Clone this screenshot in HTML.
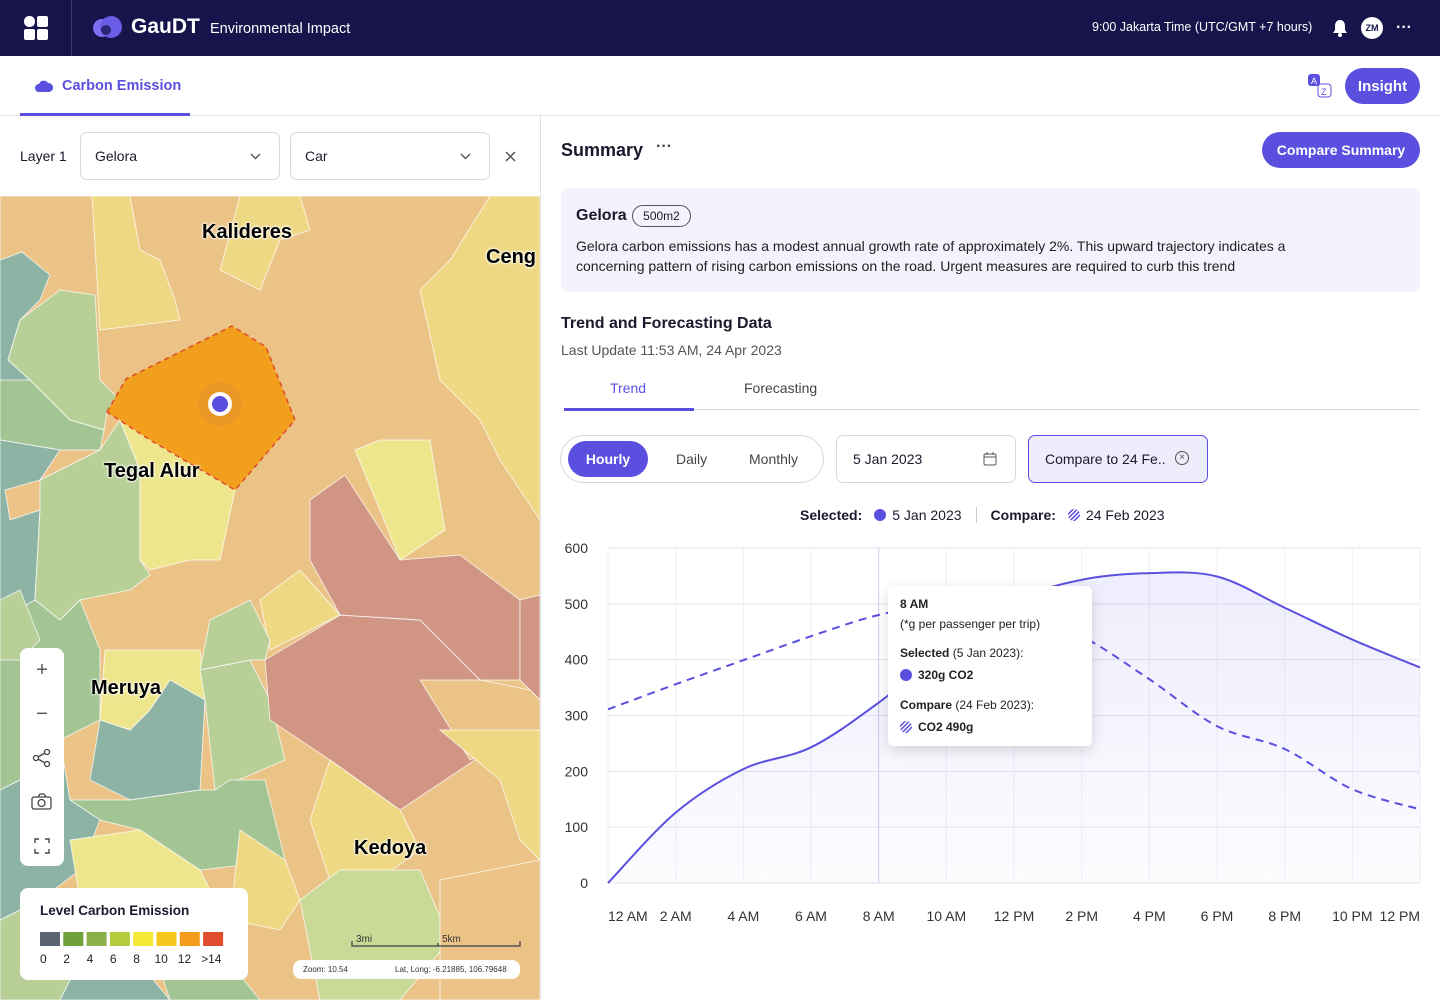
<!DOCTYPE html>
<html><head><meta charset="utf-8">
<style>
*{box-sizing:border-box;margin:0;padding:0}
body{width:1440px;height:1000px;overflow:hidden;background:#fff;font-family:"Liberation Sans",sans-serif;color:#1a1a2e;position:relative}
.abs{position:absolute}
.top{left:0;top:0;width:1440px;height:56px;background:#16144a}
.btn{background:#5b4fe0;color:#fff;font-weight:bold;font-size:14px;border-radius:20px;display:flex;align-items:center;justify-content:center}
.sel{border:1px solid #d8d8e4;border-radius:7px;font-size:14px;display:flex;align-items:center;padding-left:14px}
.lbl{font-weight:bold;font-size:20px;color:#000;text-shadow:0 0 2px #fff,0 0 2px #fff,0 0 3px #fff}
.ctl{left:20px;width:44px;height:44px;display:flex;align-items:center;justify-content:center;color:#555;font-size:20px}
.tt{font-size:12px;left:900px;color:#222}
</style></head><body>
<div class="abs top">
  <svg class="abs" style="left:24px;top:16px" width="24" height="24"><rect x="0" y="0" width="11" height="11" rx="5" fill="#fff"/><rect x="13" y="0" width="11" height="11" rx="2" fill="#fff"/><rect x="0" y="13" width="11" height="11" rx="2" fill="#fff"/><rect x="13" y="13" width="11" height="11" rx="2" fill="#fff"/></svg>
  <div class="abs" style="left:71px;top:0;width:1px;height:56px;background:#3a3870"></div>
  <svg class="abs" style="left:92px;top:15px" width="32" height="26"><circle cx="10" cy="13" r="9" fill="#7d6ff0"/><circle cx="19" cy="12" r="11" fill="#6a5ce6"/><circle cx="14" cy="15" r="5" fill="#2b2670"/></svg>
  <div class="abs" style="left:131px;top:15px;font-size:21px;font-weight:bold;color:#fff">GauDT</div>
  <div class="abs" style="left:210px;top:21px;font-size:14.5px;color:#fff">Environmental Impact</div>
  <div class="abs" style="left:1092px;top:20px;font-size:12.5px;color:#fff">9:00 Jakarta Time (UTC/GMT +7 hours)</div>
  <svg class="abs" style="left:1332px;top:19px" width="16" height="18"><path d="M8 1C4.5 1 3 4 3 7v4l-2 3h14l-2-3V7c0-3-1.5-6-5-6z" fill="#fff"/><circle cx="8" cy="16" r="2" fill="#fff"/></svg>
  <div class="abs" style="left:1361px;top:17px;width:22px;height:22px;border-radius:50%;background:#fff;color:#16144a;font-size:9px;font-weight:bold;display:flex;align-items:center;justify-content:center">ZM</div>
  <div class="abs" style="left:1396px;top:19px;color:#fff;font-size:16px;font-weight:bold">···</div>
</div>
<div class="abs" style="left:0;top:115px;width:1440px;height:1px;background:#e4e4ec"></div>
<svg class="abs" style="left:35px;top:79px" width="18" height="14"><path d="M4 13a4 4 0 0 1 0-8 5 5 0 0 1 9-1 4 4 0 0 1 1 9z" fill="#5b4fe0"/></svg>
<div class="abs" style="left:62px;top:78px;font-size:14.5px;font-weight:bold;color:#5b4fe0">Carbon Emission</div>
<div class="abs" style="left:20px;top:113px;width:170px;height:3px;background:#5b4fe0"></div>
<svg class="abs" style="left:1307px;top:73px" width="26" height="26"><rect x="1" y="1" width="12" height="12" rx="3" fill="#5b4fe0"/><text x="4" y="11" font-size="9" fill="#fff" font-family="Liberation Sans">A</text><rect x="11" y="11" width="13" height="13" rx="3" fill="#fff" stroke="#5b4fe0"/><text x="14" y="22" font-size="9" fill="#5b4fe0" font-family="Liberation Sans">Z</text></svg>
<div class="abs btn" style="left:1345px;top:68px;width:75px;height:36px;font-size:15px">Insight</div>
<div class="abs" style="left:20px;top:148px;font-size:14px">Layer 1</div>
<div class="abs sel" style="left:80px;top:132px;width:200px;height:48px">Gelora<svg class="abs" style="right:18px;top:20px" width="11" height="7"><path d="M1 1l4.5 4.5L10 1" fill="none" stroke="#555" stroke-width="1.4"/></svg></div>
<div class="abs sel" style="left:290px;top:132px;width:200px;height:48px">Car<svg class="abs" style="right:18px;top:20px" width="11" height="7"><path d="M1 1l4.5 4.5L10 1" fill="none" stroke="#555" stroke-width="1.4"/></svg></div>
<svg class="abs" style="left:505px;top:151px" width="11" height="11"><path d="M1 1l9 9M10 1l-9 9" stroke="#555" stroke-width="1.5"/></svg>
<div class="abs" style="left:540px;top:116px;width:1px;height:884px;background:#e0e0e8"></div>
<svg class="abs" style="left:0;top:196px" width="540" height="804" viewBox="0 196 540 804">
<g stroke="#fff" stroke-opacity="0.7" stroke-width="1">
<rect x="0" y="196" width="540" height="804" fill="#ebc386"/>
<polygon points="92,196 130,196 140,250 160,260 175,300 180,320 100,330" fill="#eed883"/>
<polygon points="240,196 300,196 310,230 280,240 260,290 240,280 220,270" fill="#eed883"/>
<polygon points="490,196 540,196 540,520 500,460 480,420 460,400 440,380 420,290 450,260" fill="#eed883"/>
<polygon points="0,260 22,252 50,275 40,300 20,320 8,360 30,380 25,400 0,420" fill="#8db3a5"/>
<polygon points="20,320 60,290 95,295 100,380 120,400 107,412 104,430 70,420 30,380 8,360" fill="#b8d097"/>
<polygon points="0,380 30,380 70,420 104,430 100,450 60,450 0,440" fill="#a3c493"/>
<polygon points="0,440 60,450 40,480 5,490 10,520 40,510 35,600 0,620" fill="#8db3a5"/>
<polygon points="40,480 100,450 120,420 140,470 140,560 150,575 130,590 80,600 60,620 35,600 40,510" fill="#b8d097"/>
<polygon points="120,420 150,440 235,490 220,560 190,560 150,570 140,560 140,470" fill="#eee68d"/>
<polygon points="0,620 35,600 60,620 80,600 100,650 100,720 60,740 20,780 0,790" fill="#a3c493"/>
<polygon points="0,600 20,590 40,640 20,660 0,660" fill="#b8d097"/>
<polygon points="105,650 200,650 205,700 170,680 150,710 130,730 100,720" fill="#eee68d"/>
<polygon points="100,720 130,730 150,710 170,680 205,700 200,790 130,800 90,780" fill="#8db3a5"/>
<polygon points="200,670 250,660 270,700 285,760 215,790 205,700" fill="#b8d097"/>
<polygon points="70,800 130,800 200,790 215,790 230,780 265,780 285,860 200,870 140,830 100,820" fill="#a3c493"/>
<polygon points="0,790 20,780 60,740 70,800 100,820 80,870 40,900 0,920" fill="#8db3a5"/>
<polygon points="70,840 140,830 200,870 210,890 150,900 80,900" fill="#eee68d"/>
<polygon points="240,830 285,860 300,900 280,930 230,920" fill="#eed883"/>
<polygon points="265,660 340,615 420,620 480,680 475,760 400,810 330,760 270,720" fill="#d09683"/>
<polygon points="310,500 345,475 400,560 460,555 520,600 520,680 480,680 420,620 340,615 310,560" fill="#d09683"/>
<polygon points="520,600 540,595 540,700 520,680" fill="#d09683"/>
<polygon points="420,680 480,680 530,690 540,700 540,730 470,760" fill="#ebc386"/>
<polygon points="440,730 540,730 540,860 520,840 500,780" fill="#eed883"/>
<polygon points="355,450 380,440 430,440 445,530 400,560 380,510" fill="#eee68d"/>
<polygon points="300,570 340,615 270,650 260,600" fill="#eed883"/>
<polygon points="210,620 250,600 270,640 265,660 250,660 200,670" fill="#b8d097"/>
<polygon points="310,820 330,760 400,810 420,850 350,900 330,880" fill="#eed883"/>
<polygon points="300,900 340,870 420,870 450,940 400,1000 320,1000" fill="#c9d996"/>
<polygon points="0,920 40,900 80,960 60,1000 0,1000" fill="#b8d097"/>
<polygon points="80,960 120,940 170,1000 60,1000" fill="#8db3a5"/>
<polygon points="150,940 220,950 260,1000 170,1000" fill="#a3c493"/>
<polygon points="440,880 540,860 540,1000 440,1000" fill="#ebc386"/>
<polygon points="107,412 126,379 232,326 266,347 295,420 235,490 150,440" fill="#f29f1e" stroke="#e04a2a" stroke-opacity="1" stroke-dasharray="5 4" stroke-width="1.5"/>
</g>
<circle cx="220" cy="404" r="22" fill="#e8942a" opacity="0.7"/>
<circle cx="220" cy="404" r="12" fill="#fff"/>
<circle cx="220" cy="404" r="8" fill="#5b4fe0"/>
</svg>
<div class="abs lbl" style="left:202px;top:221px">Kalideres</div>
<div class="abs lbl" style="left:486px;top:246px">Ceng</div>
<div class="abs lbl" style="left:104px;top:460px">Tegal Alur</div>
<div class="abs lbl" style="left:91px;top:677px">Meruya</div>
<div class="abs lbl" style="left:354px;top:837px">Kedoya</div>
<div class="abs" style="left:20px;top:648px;width:44px;height:218px;background:#fff;border-radius:8px"></div>
<div class="abs ctl" style="top:648px">+</div>
<div class="abs ctl" style="top:692px">−</div>
<svg class="abs" style="left:32px;top:748px" width="20" height="20"><g fill="none" stroke="#444" stroke-width="1.3"><circle cx="4" cy="10" r="2.5"/><circle cx="15" cy="4" r="2.5"/><circle cx="15" cy="16" r="2.5"/><path d="M6 9l7-4M6 11l7 4"/></g></svg>
<svg class="abs" style="left:31px;top:793px" width="22" height="18"><g fill="none" stroke="#444" stroke-width="1.3"><rect x="1" y="4" width="19" height="12" rx="2"/><path d="M7 4l2-3h4l2 3"/><circle cx="10.5" cy="10" r="3.5"/></g></svg>
<svg class="abs" style="left:34px;top:838px" width="16" height="16"><path d="M1 5V1h4M11 1h4v4M15 11v4h-4M5 15H1v-4" fill="none" stroke="#444" stroke-width="1.4"/></svg>
<div class="abs" style="left:20px;top:888px;width:228px;height:92px;background:#fff;border-radius:8px">
  <div class="abs" style="left:20px;top:15px;font-size:13.5px;font-weight:bold">Level Carbon Emission</div>
  <svg class="abs" style="left:20px;top:44px" width="190" height="40">
  <g id="lg"></g></svg>
</div>
<svg class="abs" style="left:350px;top:930px" width="172" height="20"><text x="6" y="12" font-size="10" font-family="Liberation Sans" fill="#333">3mi</text><text x="92" y="12" font-size="10" font-family="Liberation Sans" fill="#333">5km</text><path d="M2 11v5h168v-5M88 13v3" fill="none" stroke="#555" stroke-width="1.5"/></svg>
<div class="abs" style="left:293px;top:960px;width:227px;height:19px;background:#fff;border-radius:8px;font-size:8px;color:#333"><span class="abs" style="left:10px;top:5px">Zoom: 10.54</span><span class="abs" style="left:102px;top:5px">Lat, Long: -6.21885, 106.79648</span></div>
<div class="abs" style="left:561px;top:140px;font-size:18px;font-weight:bold">Summary</div>
<div class="abs" style="left:656px;top:138px;font-size:16px;font-weight:bold;color:#444">···</div>
<div class="abs btn" style="left:1262px;top:132px;width:158px;height:36px">Compare Summary</div>
<div class="abs" style="left:561px;top:188px;width:859px;height:104px;background:#f3f2fd;border-radius:8px">
  <div class="abs" style="left:15px;top:19px;font-size:16px;font-weight:bold">Gelora</div>
  <div class="abs" style="left:71px;top:17px;width:59px;height:22px;border:1px solid #555;border-radius:11px;font-size:12px;display:flex;align-items:center;justify-content:center">500m2</div>
  <div class="abs" style="left:15px;top:48px;width:770px;font-size:14px;line-height:20px;color:#222">Gelora carbon emissions has a modest annual growth rate of approximately 2%. This upward trajectory indicates a concerning pattern of rising carbon emissions on the road. Urgent measures are required to curb this trend</div>
</div>
<div class="abs" style="left:561px;top:315px;font-size:16px;font-weight:bold">Trend and Forecasting Data</div>
<div class="abs" style="left:561px;top:342px;font-size:14px;color:#555">Last Update 11:53 AM, 24 Apr 2023</div>
<div class="abs" style="left:564px;top:409px;width:856px;height:1px;background:#d8d8e0"></div>
<div class="abs" style="left:564px;top:408px;width:130px;height:3px;background:#5b4fe0"></div>
<div class="abs" style="left:610px;top:380px;font-size:14px;color:#5b4fe0">Trend</div>
<div class="abs" style="left:744px;top:380px;font-size:14px;color:#444">Forecasting</div>
<div class="abs" style="left:560px;top:435px;width:264px;height:48px;border:1px solid #d8d8e4;border-radius:24px"></div>
<div class="abs btn" style="left:568px;top:441px;width:80px;height:36px">Hourly</div>
<div class="abs" style="left:676px;top:451px;font-size:14px;color:#444">Daily</div>
<div class="abs" style="left:749px;top:451px;font-size:14px;color:#444">Monthly</div>
<div class="abs sel" style="left:836px;top:435px;width:180px;height:48px;padding-left:16px">5 Jan 2023
<svg class="abs" style="left:146px;top:16px" width="14" height="14"><rect x="1" y="2" width="12" height="11" rx="1.5" fill="none" stroke="#555"/><path d="M1 5h12M4 0v3M10 0v3" stroke="#555"/></svg></div>
<div class="abs sel" style="left:1028px;top:435px;width:180px;height:48px;background:#eeedfc;border-color:#5b4fe0;padding-left:16px">Compare to 24 Fe..
<span class="abs" style="left:146px;top:15px;width:14px;height:14px;border:1px solid #555;border-radius:50%;font-size:10px;line-height:12px;text-align:center;color:#555">×</span></div>
<div class="abs" style="left:800px;top:507px;font-size:14px;display:flex;align-items:center;white-space:nowrap">
  <b>Selected:</b><span style="display:inline-block;width:12px;height:12px;border-radius:50%;background:#5b4fe0;margin:0 6px 0 12px"></span>5 Jan 2023<span style="display:inline-block;width:1px;height:16px;background:#ccc;margin:0 14px"></span><b>Compare:</b><svg width="12" height="12" style="margin:0 6px 0 12px"><defs><pattern id="hp" width="3" height="3" patternUnits="userSpaceOnUse" patternTransform="rotate(45)"><rect width="1.5" height="3" fill="#5b4fe0"/></pattern></defs><circle cx="6" cy="6" r="6" fill="url(#hp)"/></svg>24 Feb 2023
</div>
<svg class="abs" style="left:540px;top:530px" width="900" height="410" id="chart"></svg>
<div class="abs" style="left:888px;top:586px;width:204px;height:160px;background:#fff;border-radius:6px;box-shadow:0 4px 14px rgba(0,0,0,0.14)"></div>
<div class="abs tt" style="top:597px;font-weight:bold">8 AM</div>
<div class="abs tt" style="top:617px">(*g per passenger per trip)</div>
<div class="abs tt" style="top:646px"><b>Selected</b> (5 Jan 2023):</div>
<div class="abs tt" style="top:668px;font-weight:bold;display:flex;align-items:center"><span style="display:inline-block;width:12px;height:12px;border-radius:50%;background:#5b4fe0;margin-right:6px"></span>320g CO2</div>
<div class="abs tt" style="top:698px"><b>Compare</b> (24 Feb 2023):</div>
<div class="abs tt" style="top:720px;font-weight:bold;display:flex;align-items:center"><svg width="12" height="12" style="margin-right:6px"><circle cx="6" cy="6" r="6" fill="url(#hp)"/></svg>CO2 490g</div>
<script>
const legendColors=['#5a6472','#6fa13a','#8ab04a','#b2cc3e','#f6e836','#f6c81e','#f39c1c','#df4c2e'];
const legendLabels=['0','2','4','6','8','10','12','>14'];
const lg=document.getElementById('lg');
legendColors.forEach((c,i)=>{
 const r=document.createElementNS('http://www.w3.org/2000/svg','rect');
 r.setAttribute('x',i*23.3);r.setAttribute('y',0);r.setAttribute('width',20);r.setAttribute('height',14);r.setAttribute('fill',c);
 
 
 lg.appendChild(r);
 const t=document.createElementNS('http://www.w3.org/2000/svg','text');
 t.setAttribute('x',i*23.3+(i>4?-2:0));t.setAttribute('y',31);t.setAttribute('font-size','12');t.setAttribute('font-family','Liberation Sans');t.setAttribute('fill','#222');t.textContent=legendLabels[i];
 
 
 lg.appendChild(t);
});
</script>
<script>
const categories=['12 AM','2 AM','4 AM','6 AM','8 AM','10 AM','12 PM','2 PM','4 PM','6 PM','8 PM','10 PM','12 PM'];
const selectedValues=[0,126,204,243,323,420,505,543,555,549,493,436,386];
const compareValues=[311,356,399,442,480,500,490,442,365,281,240,168,132];
const yTicks=[0,100,200,300,400,500,600];
const NS='http://www.w3.org/2000/svg';
const svg=document.getElementById('chart');
const X0=68,X1=880,Y0=353,Y1=18,YMAX=600;
const xs=i=>X0+(X1-X0)*i/(categories.length-1);
const ys=v=>Y0-(Y0-Y1)*v/YMAX;
function el(tag,attrs){const e=document.createElementNS(NS,tag);for(const k in attrs)e.setAttribute(k,attrs[k]);svg.appendChild(e);return e;}
const defs=el('defs',{});
defs.innerHTML='<linearGradient id="ag" x1="0" y1="0" x2="0" y2="1"><stop offset="0" stop-color="#5b4fe0" stop-opacity="0.1"/><stop offset="1" stop-color="#5b4fe0" stop-opacity="0.02"/></linearGradient>';
yTicks.forEach(v=>{
 const l=el('line',{x1:X0,x2:X1,y1:ys(v),y2:ys(v),stroke:'#e6e6ee'});
 
 
 const t=el('text',{x:48,y:ys(v)+5,'text-anchor':'end','font-size':14,'font-family':'Liberation Sans',fill:'#333'});
 t.textContent=v;
 
 
});
categories.forEach((c,i)=>{
 const l=el('line',{x1:xs(i),x2:xs(i),y1:Y1,y2:Y0,stroke:i==4?'#cfcdf0':'#efeff5'});
 
 
 const anchor=i==0?'start':(i==categories.length-1?'end':'middle');
 const t=el('text',{x:xs(i),y:391,'text-anchor':anchor,'font-size':14,'font-family':'Liberation Sans',fill:'#333'});
 t.textContent=c;
 
 
});
function smooth(vals){
 const p=vals.map((v,i)=>[xs(i),ys(v)]);
 let d='M'+p[0][0]+','+p[0][1];
 for(let i=0;i<p.length-1;i++){
  const a=p[i-1]||p[i],b=p[i],c=p[i+1],e=p[i+2]||c;
  d+=' C'+(b[0]+(c[0]-a[0])/6)+','+(b[1]+(c[1]-a[1])/6)+' '+(c[0]-(e[0]-b[0])/6)+','+(c[1]-(e[1]-b[1])/6)+' '+c[0]+','+c[1];
 }
 return d;
}
const sd=smooth(selectedValues);
const area=el('path',{d:sd+' L'+X1+','+Y0+' L'+X0+','+Y0+' Z',fill:'url(#ag)'});


const cl=el('path',{d:smooth(compareValues),fill:'none',stroke:'#5b4fe0','stroke-width':2,'stroke-dasharray':'8 6'});


const sl=el('path',{d:sd,fill:'none',stroke:'#5b4fe0','stroke-width':2});


</script>
</body></html>
